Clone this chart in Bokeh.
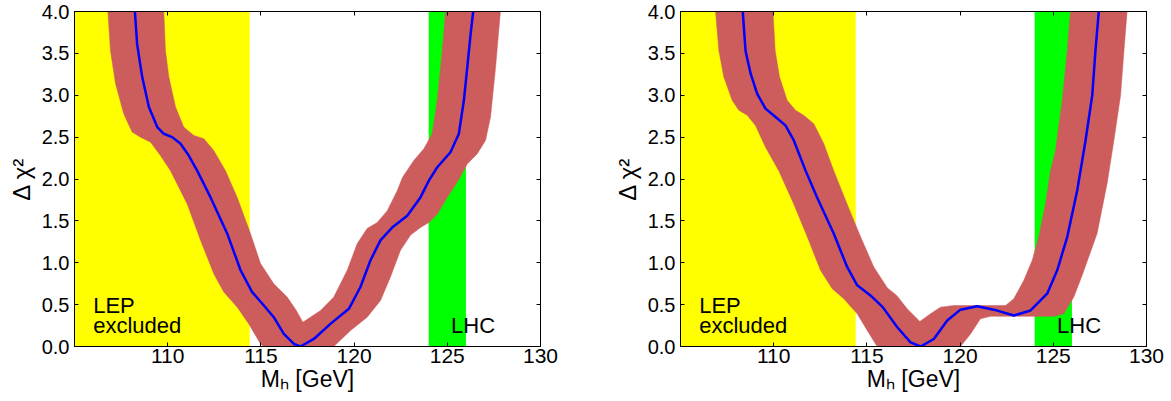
import numpy as np
from bokeh.plotting import figure
from bokeh.layouts import row
from bokeh.models import (Range1d, FixedTicker, NumeralTickFormatter, LinearAxis, Label,
                          CustomJSTickFormatter)
from bokeh.embed import file_html
from bokeh.resources import INLINE

# ---------------- data ----------------
x_limits = [105, 130]
y_limits = [0, 4]
lep_limit = 114.4
lhc_window = [124, 126]
x_ticks = [110, 115, 120, 125, 130]
y_ticks = [0.0, 0.5, 1.0, 1.5, 2.0, 2.5, 3.0, 3.5, 4.0]

# left panel: central curve
left_curve_x = [108.24, 108.36, 108.63, 108.99, 109.44, 109.79, 110.24, 110.69, 111.13, 111.58, 112.30,
                113.19, 113.91, 114.53, 115.16, 115.69, 116.23, 116.77, 117.12, 117.84, 118.73, 119.72,
                120.34, 120.88, 121.42, 122.04, 122.85, 123.56, 124.01, 124.46, 125.17, 125.62, 125.89,
                126.07, 126.25, 126.39]
left_curve_y = [4.0, 3.61, 3.22, 2.86, 2.62, 2.54, 2.50, 2.42, 2.28, 2.10, 1.78,
                1.35, 0.91, 0.65, 0.49, 0.35, 0.15, 0.03, 0.0, 0.09, 0.27, 0.45,
                0.71, 1.03, 1.27, 1.42, 1.56, 1.78, 1.98, 2.14, 2.32, 2.54, 2.94,
                3.33, 3.73, 4.0]
# left panel: band edges
left_low_x = [106.79, 106.93, 107.20, 107.64, 108.09, 108.54, 109.08, 109.61, 110.15, 111.05, 111.76,
              112.47, 113.01, 113.73, 114.35, 114.98, 115.16, 118.91, 119.81, 120.70, 121.42, 121.95,
              122.49, 123.03, 123.56, 124.01, 124.46, 124.99, 125.58, 126.07, 126.60, 127.05, 127.32,
              127.59, 127.85]
left_low_y = [4.0, 3.53, 3.14, 2.78, 2.56, 2.50, 2.44, 2.28, 2.10, 1.70, 1.27,
              0.87, 0.65, 0.47, 0.27, 0.03, 0.0, 0.0, 0.19, 0.35, 0.55, 0.83,
              1.15, 1.33, 1.42, 1.48, 1.58, 1.78, 1.98, 2.18, 2.30, 2.46, 2.74,
              3.33, 4.0]
left_up_x = [109.79, 109.88, 110.06, 110.42, 110.86, 111.40, 111.94, 112.47, 113.10, 113.73, 114.44,
             114.98, 115.69, 116.41, 116.90, 117.25, 118.20, 118.91, 119.63, 120.17, 120.70, 121.24,
             121.78, 122.31, 122.60, 123.20, 123.74, 124.19, 124.46, 124.64, 124.81, 124.90]
left_up_y = [4.0, 3.53, 3.22, 2.86, 2.62, 2.52, 2.48, 2.34, 2.10, 1.78, 1.35,
             0.99, 0.75, 0.59, 0.43, 0.29, 0.43, 0.59, 0.91, 1.23, 1.41, 1.48,
             1.62, 1.86, 2.02, 2.22, 2.36, 2.54, 2.94, 3.33, 3.73, 4.0]

# right panel: central curve
right_curve_x = [108.34, 108.49, 108.76, 109.11, 109.56, 110.10, 110.63, 111.08, 111.71, 112.33, 113.22,
                 113.94, 114.48, 115.19, 115.85, 116.63, 117.34, 117.88, 118.59, 119.31, 120.02, 120.92,
                 121.81, 122.88, 123.78, 124.67, 125.21, 125.75, 126.28, 126.73, 127.09, 127.26, 127.44]
right_curve_y = [4.0, 3.53, 3.26, 3.02, 2.84, 2.74, 2.64, 2.46, 2.10, 1.78, 1.35,
                 0.95, 0.73, 0.61, 0.47, 0.23, 0.05, 0.0, 0.09, 0.31, 0.44, 0.48,
                 0.44, 0.37, 0.43, 0.63, 0.91, 1.31, 1.86, 2.46, 3.0, 3.53, 4.0]
# right panel: band edges
right_low_x = [106.88, 107.06, 107.32, 107.77, 108.13, 108.58, 109.02, 109.56, 110.27, 111.08, 111.80,
               112.51, 113.14, 113.76, 114.48, 115.02, 115.55, 120.02, 120.56, 121.09, 121.63, 125.03,
               125.56, 126.10, 126.55, 127.35, 127.89, 128.25, 128.61, 128.79, 128.96]
right_low_y = [4.0, 3.53, 3.22, 2.94, 2.82, 2.76, 2.64, 2.38, 2.10, 1.70, 1.31,
               0.91, 0.69, 0.57, 0.39, 0.19, 0.0, 0.0, 0.15, 0.33, 0.36, 0.36,
               0.39, 0.59, 0.85, 1.35, 1.95, 2.46, 3.0, 3.53, 4.0]
right_up_x = [109.96, 110.08, 110.31, 110.72, 111.17, 111.61, 112.15, 112.69, 113.22, 113.94, 114.66,
              115.37, 116.10, 116.60, 117.16, 117.84, 118.41, 118.95, 119.66, 122.44, 122.88, 123.42,
              123.87, 124.22, 124.58, 124.85, 125.12, 125.48, 125.75, 125.92]
right_up_y = [4.0, 3.53, 3.22, 2.94, 2.82, 2.76, 2.66, 2.42, 2.10, 1.70, 1.31,
              0.95, 0.70, 0.61, 0.45, 0.30, 0.39, 0.47, 0.49, 0.49, 0.57, 0.79,
              1.03, 1.31, 1.70, 2.10, 2.34, 2.94, 3.53, 4.0]

FONT = "Liberation Sans"
X_TITLE = "M\u2095 [GeV]"
Y_TITLE = "\u0394 \u03c7\u00b2"


def make_panel(cx, cy, lx, ly, ux, uy, width, border_left, border_right):
    p = figure(width=width, height=400, x_range=Range1d(*x_limits), y_range=Range1d(*y_limits),
               output_backend="svg", toolbar_location=None,
               min_border_left=border_left, min_border_right=border_right,
               min_border_top=11, min_border_bottom=54)
    p.xgrid.visible = False
    p.ygrid.visible = False
    p.outline_line_color = "black"
    p.outline_line_width = 1
    p.background_fill_color = "white"
    p.border_fill_color = "white"

    # shaded regions
    p.quad(left=[x_limits[0]], right=[lep_limit], bottom=[y_limits[0]], top=[y_limits[1]],
           fill_color="#FFFF00", line_color=None)
    p.quad(left=[lhc_window[0]], right=[lhc_window[1]], bottom=[y_limits[0]], top=[y_limits[1]],
           fill_color="#00FF00", line_color=None)

    # theory band
    p.patch(x=lx + ux[::-1], y=ly + uy[::-1], fill_color="#CD5C5C", line_color="#CD5C5C",
            line_width=0.5)
    # central curve
    p.line(cx, cy, line_color="#0000FF", line_width=2.5, line_join="round")

    # axes
    for ax in (p.xaxis[0], p.yaxis[0]):
        ax.major_tick_in = 4
        ax.major_tick_out = 0
        ax.minor_tick_line_color = None
        ax.axis_line_color = "black"
        ax.major_tick_line_color = "black"
        ax.major_label_text_font = FONT
        ax.major_label_text_color = "black"
        ax.axis_label_text_font = FONT
        ax.axis_label_text_font_style = "normal"
        ax.axis_label_text_color = "black"
    p.xaxis.ticker = FixedTicker(ticks=x_ticks)
    p.yaxis.ticker = FixedTicker(ticks=y_ticks)
    p.yaxis.formatter = NumeralTickFormatter(format="0.0")
    p.xaxis.major_label_text_font_size = "21px"
    p.yaxis.major_label_text_font_size = "20px"
    p.xaxis.major_label_standoff = 2
    p.yaxis.major_label_standoff = 5
    p.xaxis.axis_label = X_TITLE
    p.xaxis.axis_label_text_font_size = "23px"
    p.xaxis.axis_label_standoff = 0
    p.yaxis.axis_label = Y_TITLE
    p.yaxis.axis_label_text_font_size = "24px"
    p.yaxis.axis_label_standoff = 4

    blank = CustomJSTickFormatter(code="return ''")
    top = LinearAxis(ticker=FixedTicker(ticks=x_ticks), formatter=blank,
                     major_label_standoff=0, major_tick_in=4, major_tick_out=0,
                     minor_tick_line_color=None)
    right = LinearAxis(ticker=FixedTicker(ticks=y_ticks), formatter=blank,
                       major_label_standoff=0, major_tick_in=4, major_tick_out=0,
                       minor_tick_line_color=None)
    p.add_layout(top, "above")
    p.add_layout(right, "right")

    # annotations
    p.add_layout(Label(x=106.0, y=0.49, text="LEP", text_font=FONT, text_font_size="22px",
                       text_color="black", text_baseline="alphabetic"))
    p.add_layout(Label(x=106.0, y=0.25, text="excluded", text_font=FONT, text_font_size="22px",
                       text_color="black", text_baseline="alphabetic"))
    p.add_layout(Label(x=125.2, y=0.25, text="LHC", text_font=FONT, text_font_size="22px",
                       text_color="black", text_baseline="alphabetic"))
    return p


p1 = make_panel(left_curve_x, left_curve_y, left_low_x, left_low_y, left_up_x, left_up_y,
                608, 74, 68)
p2 = make_panel(right_curve_x, right_curve_y, right_low_x, right_low_y, right_up_x, right_up_y,
                558, 72, 20)

layout = row(p1, p2)
open("out.html", "w").write(file_html(layout, INLINE))
